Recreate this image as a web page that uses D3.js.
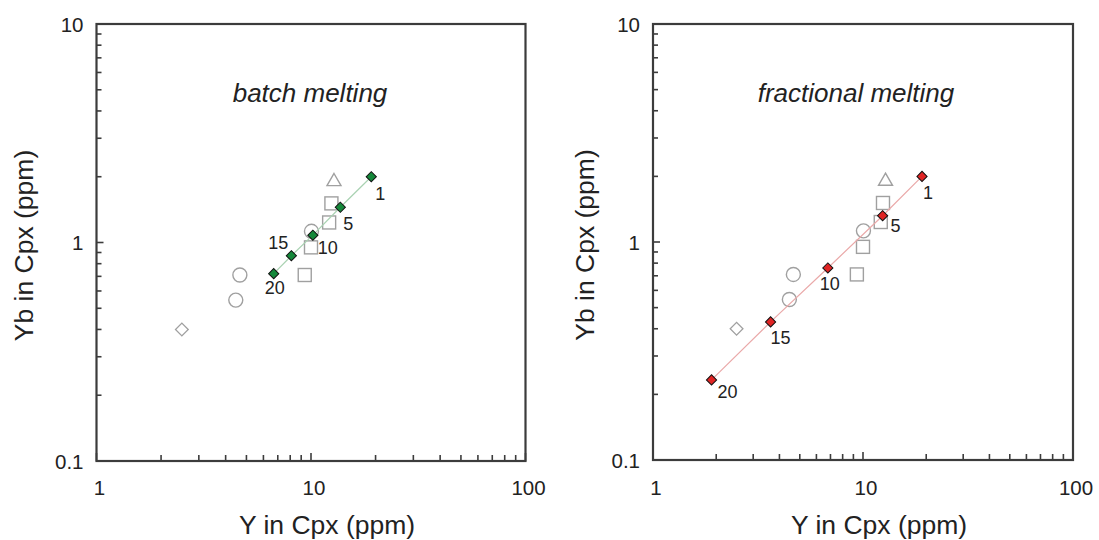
<!DOCTYPE html>
<html>
<head>
<meta charset="utf-8">
<script src="https://cdn.jsdelivr.net/npm/d3@7/dist/d3.min.js"></script>
<style>
  html, body { margin: 0; padding: 0; background: #fff; }
  svg text { font-family: "Liberation Sans", Arial, Helvetica, sans-serif; fill: #222; }
</style>
</head>
<body>
<svg id="chart" width="1099" height="540"></svg>
<script>
// Measured clinopyroxene compositions (Y, Yb in ppm)
const triangleY = [12.8];
const triangleYb = [1.90];
const squareY = [12.45, 12.15, 10.0, 9.35];
const squareYb = [1.51, 1.235, 0.95, 0.71];
const circleY = [10.05, 4.66, 4.46];
const circleYb = [1.125, 0.71, 0.545];
const diamondY = [2.5];
const diamondYb = [0.40];

// Melting model: residual Cpx at degree of melting F (%)
const meltSteps = ["1", "5", "10", "15", "20"];
const batchY = [19.1, 13.7, 10.2, 8.1, 6.7];
const batchYb = [2.0, 1.45, 1.08, 0.87, 0.72];
const fracY = [19.1, 12.4, 6.8, 3.63, 1.9];
const fracYb = [2.0, 1.32, 0.76, 0.43, 0.233];

// Axis tick labels
const xTickLabels = ["1", "10", "100"];
const yTickLabels = ["0.1", "1", "10"];

// Label placement for the melting-step numbers (pixel offsets from the marker)
const batchLabelOffsets = [[9, 17], [8, 16], [15, 12], [-13, -13], [1, 14]];
const fracLabelOffsets = [[6, 16], [13, 10], [2, 16], [10, 16], [16, 12]];

const svg = d3.select("#chart");

const panels = [
  { box: { x0: 96.5, x1: 525.5, y0: 24, y1: 461 }, title: "batch melting", titleX: 310,
    modelY: batchY, modelYb: batchYb, offsets: batchLabelOffsets,
    fill: "#14883a", line: "#a9d2b2", yTitleX: 33 },
  { box: { x0: 653, x1: 1073, y0: 24, y1: 460 }, title: "fractional melting", titleX: 856,
    modelY: fracY, modelYb: fracYb, offsets: fracLabelOffsets,
    fill: "#e02424", line: "#eaa9a9", yTitleX: 594 }
];

const zip = (a, b) => a.map((v, i) => [v, b[i]]);

panels.forEach(p => {
  const b = p.box;
  const x = d3.scaleLog().domain([1, 100]).range([b.x0, b.x1]);
  const y = d3.scaleLog().domain([0.1, 10]).range([b.y1, b.y0]);
  const g = svg.append("g");

  // Tick marks (inward, bottom and left edges)
  const isMajor = v => Math.abs(Math.log10(v) - Math.round(Math.log10(v))) < 1e-9;
  g.selectAll("line.xt").data(x.ticks()).join("line")
    .attr("x1", d => x(d)).attr("x2", d => x(d))
    .attr("y1", b.y1).attr("y2", d => b.y1 - (isMajor(d) ? 8 : 6))
    .attr("stroke", "#3c3c3c").attr("stroke-width", 1.6);
  g.selectAll("line.yt").data(y.ticks()).join("line")
    .attr("y1", d => y(d)).attr("y2", d => y(d))
    .attr("x1", b.x0).attr("x2", d => b.x0 + (isMajor(d) ? 7 : 5))
    .attr("stroke", "#3c3c3c").attr("stroke-width", 1.6);

  // Frame
  g.append("rect")
    .attr("x", b.x0).attr("y", b.y0)
    .attr("width", b.x1 - b.x0).attr("height", b.y1 - b.y0)
    .attr("fill", "none").attr("stroke", "#3c3c3c").attr("stroke-width", 2.2);

  // Tick labels
  g.selectAll("text.xl").data(xTickLabels).join("text")
    .attr("x", d => x(+d) + 3).attr("y", 495)
    .attr("text-anchor", "middle").attr("font-size", 20.5).text(d => d);
  g.selectAll("text.yl").data(yTickLabels).join("text")
    .attr("x", b.x0 - 13).attr("y", d => y(+d) + 7.5)
    .attr("text-anchor", "end").attr("font-size", 20.5).text(d => d);

  // Axis titles
  g.append("text")
    .attr("x", (b.x0 + b.x1) / 2 + 16).attr("y", 534)
    .attr("text-anchor", "middle").attr("font-size", 26.5)
    .text("Y in Cpx (ppm)");
  g.append("text")
    .attr("transform", `translate(${p.yTitleX},${(b.y0 + b.y1) / 2 + 3}) rotate(-90)`)
    .attr("text-anchor", "middle").attr("font-size", 26.5)
    .text("Yb in Cpx (ppm)");

  // Panel title
  g.append("text")
    .attr("x", p.titleX).attr("y", 102)
    .attr("text-anchor", "middle").attr("font-size", 26).attr("font-style", "italic")
    .text(p.title);

  // Open symbols: measured samples
  const grey = "#a0a0a0";
  g.selectAll("path.tri").data(zip(triangleY, triangleYb)).join("path")
    .attr("transform", d => `translate(${x(d[0])},${y(d[1])})`)
    .attr("d", d3.symbol().type(d3.symbolTriangle).size(85)())
    .attr("fill", "none").attr("stroke", grey).attr("stroke-width", 1.4);
  g.selectAll("rect.sq").data(zip(squareY, squareYb)).join("rect")
    .attr("x", d => x(d[0]) - 6.5).attr("y", d => y(d[1]) - 6.5)
    .attr("width", 13).attr("height", 13)
    .attr("fill", "none").attr("stroke", grey).attr("stroke-width", 1.4);
  g.selectAll("circle.ci").data(zip(circleY, circleYb)).join("circle")
    .attr("cx", d => x(d[0])).attr("cy", d => y(d[1])).attr("r", 7)
    .attr("fill", "none").attr("stroke", grey).attr("stroke-width", 1.4);
  g.selectAll("path.di").data(zip(diamondY, diamondYb)).join("path")
    .attr("transform", d => `translate(${x(d[0])},${y(d[1])}) rotate(45)`)
    .attr("d", "M-4.5,-4.5H4.5V4.5H-4.5Z")
    .attr("fill", "none").attr("stroke", grey).attr("stroke-width", 1.3);

  // Model curve
  const model = zip(p.modelY, p.modelYb);
  g.append("path")
    .datum(model)
    .attr("d", d3.line().x(d => x(d[0])).y(d => y(d[1])))
    .attr("fill", "none").attr("stroke", p.line).attr("stroke-width", 1.2);

  // Model markers
  g.selectAll("path.mk").data(model).join("path")
    .attr("transform", d => `translate(${x(d[0])},${y(d[1])}) rotate(45)`)
    .attr("d", "M-3.6,-3.6H3.6V3.6H-3.6Z")
    .attr("fill", p.fill).attr("stroke", "#111").attr("stroke-width", 1);

  // Melting-step labels
  g.selectAll("text.ml").data(model).join("text")
    .attr("x", (d, i) => x(d[0]) + p.offsets[i][0])
    .attr("y", (d, i) => y(d[1]) + p.offsets[i][1] + 6.5)
    .attr("text-anchor", "middle").attr("font-size", 18)
    .text((d, i) => meltSteps[i]);
});
</script>
</body>
</html>
